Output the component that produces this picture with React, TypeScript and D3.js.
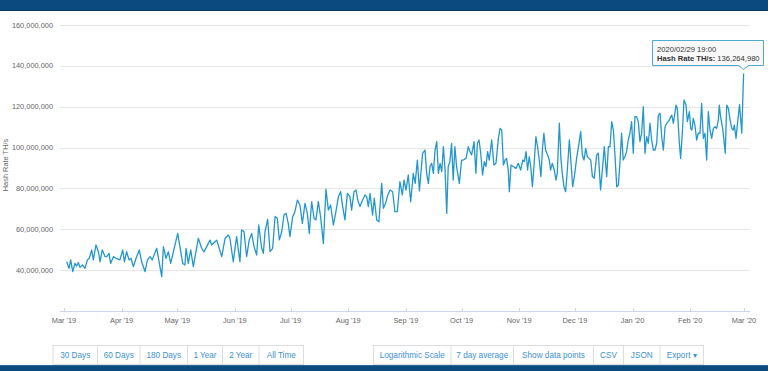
import React from 'react';
import * as d3 from 'd3';

// days since 2019-03-01 (UTC) for each sample
const dayOffsets = [
  1.4, 2.7, 3.6, 4.7, 5.9, 6.8, 7.7, 8.6, 10.0, 11.3, 12.6, 13.6, 14.9, 15.8, 17.2, 18.5, 19.4, 20.6,
  22.1, 23.0, 24.2, 25.1, 26.6, 28.0, 30.1, 31.6, 32.5, 33.7, 35.0, 36.1, 37.3, 38.8, 40.5, 41.8,
  43.6, 44.9, 46.3, 47.5, 49.9, 52.6, 53.5, 54.9, 56.2, 57.4, 61.2, 63.9, 65.1, 65.7, 66.9, 68.2,
  69.6, 72.3, 74.1, 75.4, 76.8, 78.6, 79.5, 81.3, 82.2, 84.9, 86.7, 88.5, 89.3, 91.1, 92.9, 94.7,
  95.6, 96.9, 98.3, 99.7, 101.0, 102.3, 103.7, 104.8, 106.4, 107.3, 108.2, 109.6, 110.9, 112.3,
  113.6, 114.8, 115.9, 117.2, 118.4, 119.5, 120.7, 121.6, 123.1, 124.3, 125.6, 127.0, 128.3, 129.7,
  131.0, 132.0, 133.3, 134.6, 135.6, 136.9, 138.1, 139.6, 141.0, 142.3, 143.5, 145.0, 146.2, 147.7,
  148.9, 150.0, 151.2, 152.5, 153.9, 154.8, 156.1, 157.2, 158.1, 159.3, 160.7, 162.0, 162.9, 163.8,
  164.7, 166.1, 167.0, 168.3, 169.5, 171.0, 171.9, 173.1, 174.0, 175.5, 176.9, 178.1, 179.4, 180.8,
  182.1, 183.0, 184.1, 185.3, 186.6, 188.0, 189.0, 190.2, 191.3,
  193.0, 194.3, 195.2, 196.1, 197.0, 197.9, 198.8, 199.7, 200.6, 201.5, 202.4, 203.3, 204.2, 205.1,
  206.0, 206.8, 207.7, 208.6, 209.5, 210.4, 211.3, 212.8, 214.0, 214.9, 216.4, 217.6, 218.5, 219.4,
  220.7, 221.7, 222.5, 223.4, 224.3, 225.3, 226.2, 227.1, 228.0, 228.9, 230.2, 231.4, 232.5, 233.8,
  234.7, 235.6, 236.5, 237.4, 238.2, 239.1, 239.7, 240.6, 241.8, 243.3, 244.5, 245.8, 246.9, 247.8,
  248.7, 249.5, 250.4, 251.2, 252.1, 253.0, 254.0, 254.9, 255.8, 256.7, 257.6, 258.3, 259.2, 260.3,
  261.2, 261.9, 262.8, 263.9, 264.8, 265.5, 266.6, 267.5, 268.2, 269.1, 270.0, 270.9, 272.0, 272.9,
  273.8, 274.7, 275.9, 277.2, 278.1, 279.0, 279.9, 280.8, 281.7, 282.6, 283.5, 284.4, 285.4, 286.7,
  287.6,
  288.8, 289.9, 290.8, 292.1, 293.0, 293.9, 294.8, 295.7, 296.6, 297.5, 298.4, 299.2, 300.1, 301.0,
  301.9, 302.8, 303.7, 304.6, 305.5, 306.4, 307.3, 308.2, 309.1, 310.0, 310.9, 311.8, 312.7, 313.6,
  314.5, 315.4, 316.3, 317.2, 318.1, 319.0, 319.9, 320.8, 321.7, 322.6, 323.5, 324.4, 325.3, 326.2,
  327.1, 328.0, 328.9, 329.4, 330.1, 331.2, 331.9, 333.0, 333.7, 334.8, 335.5, 336.6, 337.3, 338.0,
  338.7, 339.6, 340.5, 341.4, 342.3, 343.2, 344.1, 345.0, 345.9, 346.8, 347.7, 348.6, 349.5, 350.4,
  351.3, 352.2, 352.7, 353.4, 354.5, 355.2, 355.9, 356.7, 357.6, 358.5, 359.4, 360.2, 360.8, 361.7,
  362.6, 363.6, 364.8, 365.79,
];

// hash rate, millions of TH/s
const hashRateM = [
  44.1, 40.9, 45.0, 39.3, 43.3, 42.0, 43.7, 41.4, 42.5, 40.9, 45.0, 45.8, 49.9, 45.0, 52.3, 49.0, 44.1, 49.9,
  46.6, 46.6, 48.2, 43.3, 46.6, 45.8, 45.0, 49.9, 44.1, 49.0, 45.0, 45.8, 41.7, 45.8, 49.9, 44.1,
  39.3, 45.0, 46.6, 45.0, 50.7, 36.8, 51.5, 45.8, 49.0, 43.3, 58.0, 43.3, 42.5, 50.7, 43.3, 49.9,
  41.7, 55.6, 50.7, 49.0, 51.5, 54.7, 52.3, 53.9, 54.7, 46.6, 55.6, 57.2, 55.6, 44.1, 56.4, 44.1,
  59.7, 58.8, 46.6, 54.8, 58.0, 51.5, 47.4, 62.1, 50.7, 48.2, 58.8, 64.9, 49.1, 50.7,
  66.2, 65.4, 54.8, 58.8, 67.0, 67.8, 62.9, 56.4, 66.2, 68.6, 74.3, 71.9, 62.9, 72.7,
  67.8, 58.0, 73.5, 65.4, 64.6, 73.5, 66.2, 53.1, 79.6, 69.4, 71.9, 62.1, 67.8, 76.0,
  78.4, 71.1, 64.6, 77.6, 76.0, 69.4, 78.4, 79.2, 74.3, 71.1, 74.3, 76.8, 76.0, 71.1,
  77.6, 67.0, 75.2, 64.6, 63.7, 82.5, 70.3, 72.7, 76.0, 79.2, 78.4, 68.6, 68.6, 83.3,
  76.8, 84.1, 79.2, 86.6, 73.5, 87.4, 82.5, 93.9, 78.8,
  97.2, 98.8, 87.4, 82.5, 90.7, 92.3, 87.4, 98.8, 102.9, 87.4, 92.3, 88.2, 100.4, 89.0,
  67.8, 90.7, 93.1, 102.1, 84.1, 100.4, 90.7, 82.5, 93.9, 93.9, 94.7, 100.4, 98.0, 96.4,
  102.9, 87.4, 102.1, 103.7, 97.2, 86.6, 93.1, 90.7, 98.0, 93.9, 103.7, 91.5, 92.3, 104.5,
  109.4, 108.6, 91.5, 93.9, 94.7, 89.0, 78.4, 91.5, 90.7, 89.8, 92.3, 89.0, 93.9, 93.1,
  98.0, 89.0, 95.5, 90.7, 80.9, 91.5, 105.3, 100.4, 93.9, 85.8, 100.4, 107.0, 98.8, 96.4,
  93.9, 89.0, 92.3, 89.0, 84.1, 87.4, 111.9, 93.9, 87.4, 80.9, 78.4, 89.0, 103.7, 92.3,
  80.9, 85.8, 94.7, 102.1, 107.8, 96.4, 93.9, 99.6, 95.5, 94.7, 93.9, 85.8, 85.0, 96.4,
  97.2,
  79.3, 90.6, 100.4, 85.8, 100.4, 100.4, 112.7, 108.6, 95.5, 80.8, 81.7, 92.3, 107.0, 93.9,
  95.5, 98.0, 103.7, 107.0, 112.7, 97.2, 115.1, 115.1, 112.7, 102.9, 107.0, 120.0, 97.2, 105.3,
  102.1, 111.9, 103.7, 98.8, 98.8, 102.1, 115.9, 116.8, 105.3, 98.8, 110.2, 111.9, 112.7, 114.3,
  115.9, 111.9, 117.6, 120.8, 119.2, 102.1, 94.7, 110.2, 123.3, 120.8, 112.7, 117.6, 109.4, 108.6,
  114.3, 111.0, 103.7, 107.0, 107.0, 121.6, 104.5, 107.0, 93.9, 117.6, 108.6, 104.5, 109.4, 110.2,
  109.4, 113.5, 120.8, 115.1, 109.4, 103.7, 97.2, 120.8, 119.2, 113.5, 109.4, 108.6, 111.0, 104.5,
  112.7, 121.0, 107.0, 136.26498,
];

const yTicks = [40e6, 60e6, 80e6, 100e6, 120e6, 140e6, 160e6];
const rangeButtons = ['30 Days', '60 Days', '180 Days', '1 Year', '2 Year', 'All Time'];
const optionButtons = ['Logarithmic Scale', '7 day average', 'Show data points', 'CSV', 'JSON', 'Export \u25BE'];
const tooltipDate = '2020/02/29 19:00';
const tooltipLabel = 'Hash Rate TH/s:';

// layout
const W = 768;
const H = 371;
const plot = { left: 60, right: 750, top: 25, bottom: 311 };
const rangeEdges = [53, 97.5, 140, 187.5, 222.5, 259, 303.5];
const optionEdges = [373.5, 451, 513.5, 593.5, 623.5, 660, 703.5];
const lineColor = '#2397cb';
const font = '"Liberation Sans", Arial, Helvetica, sans-serif';

const t0 = Date.UTC(2019, 2, 1);
const DAY = 864e5;

const data = dayOffsets.map((d, i) => ({ date: new Date(t0 + d * DAY), value: hashRateM[i] * 1e6 }));

const x = d3.scaleUtc()
  .domain([new Date(t0), new Date(Date.UTC(2020, 2, 1))])
  .range([64, 744]);

const y = d3.scaleLinear()
  .domain([20e6, 160e6])
  .range([plot.bottom, plot.top]);

const line = d3.line<{ date: Date; value: number }>()
  .x(d => x(d.date))
  .y(d => y(d.value));

const fmtNum = d3.format(',');
const monthTicks = d3.utcMonth.range(new Date(t0), new Date(Date.UTC(2020, 2, 2)));
const fmtMonth = (d: Date) => `${d3.utcFormat('%b')(d)} '${d3.utcFormat('%y')(d)}`;

const ButtonGroup = ({ labels, edges }: { labels: string[]; edges: number[] }) => (
  <g>
    <rect x={edges[0]} y={345.5} width={edges[edges.length - 1] - edges[0]} height={19} fill="#fff" stroke="#dddddd" />
    {labels.map((l, i) => (
      <g key={l}>
        {i > 0 && <line x1={edges[i]} x2={edges[i]} y1={345.5} y2={364.5} stroke="#dddddd" />}
        <text x={(edges[i] + edges[i + 1]) / 2} y={357.5} textAnchor="middle" fontSize={8.2} fill="#3e90d4">{l}</text>
      </g>
    ))}
  </g>
);

export default function App() {
  const last = data[data.length - 1];
  const px = x(last.date);
  const py = y(last.value);
  return (
    <div style={{ position: 'absolute', left: 0, top: 0 }}>
      <svg width={W} height={H} style={{ display: 'block', fontFamily: font }}>
        <rect width={W} height={H} fill="#fff" />
        <rect x={0} y={0} width={W} height={11} fill="#0b4a7e" />
        <rect x={0} y={10} width={W} height={1} fill="#073a66" />

        {yTicks.map(t => (
          <g key={t}>
            <line x1={plot.left} x2={plot.right} y1={Math.round(y(t)) + 0.5} y2={Math.round(y(t)) + 0.5} stroke="#e6e6e6" />
            <text x={53} y={y(t) + 2.6} textAnchor="end" fontSize={7.4} fill="#666">{fmtNum(t)}</text>
          </g>
        ))}

        <text transform={`translate(8,${(plot.top + plot.bottom) / 2 - 3}) rotate(-90)`} textAnchor="middle" fontSize={7.4} fill="#666">
          Hash Rate TH/s
        </text>

        <line x1={plot.left} x2={plot.right} y1={plot.bottom + 0.5} y2={plot.bottom + 0.5} stroke="#ccd6eb" />
        {monthTicks.map(m => (
          <g key={m.getTime()}>
            <line x1={Math.round(x(m)) + 0.5} x2={Math.round(x(m)) + 0.5} y1={308} y2={plot.bottom} stroke="#ccd6eb" />
            <text x={x(m)} y={323} textAnchor="middle" fontSize={7.4} fill="#666">{fmtMonth(m)}</text>
          </g>
        ))}

        <path d={line(data) ?? ''} fill="none" stroke={lineColor} strokeWidth={1.3} strokeLinejoin="round" />

        <g>
          <path
            d={`M${652.5},${40.5} H${763.5} V${65.5} H${px + 5} L${px},${py - 4} L${px - 5},${65.5} H${652.5} Z`}
            fill="rgba(249,249,249,0.92)"
            stroke={lineColor}
            strokeWidth={0.8}
          />
          <text x={657} y={51.5} fontSize={7.6} fill="#333">{tooltipDate}</text>
          <text x={657} y={60.5} fontSize={7.6} fill="#333">
            <tspan fontWeight="bold">{tooltipLabel}</tspan>
            <tspan> {fmtNum(Math.round(last.value))}</tspan>
          </text>
        </g>

        <ButtonGroup labels={rangeButtons} edges={rangeEdges} />
        <ButtonGroup labels={optionButtons} edges={optionEdges} />

        <rect x={0} y={365} width={W} height={6} fill="#0c4b80" />
        <rect x={0} y={365} width={W} height={1} fill="#2f6698" />
      </svg>
    </div>
  );
}
